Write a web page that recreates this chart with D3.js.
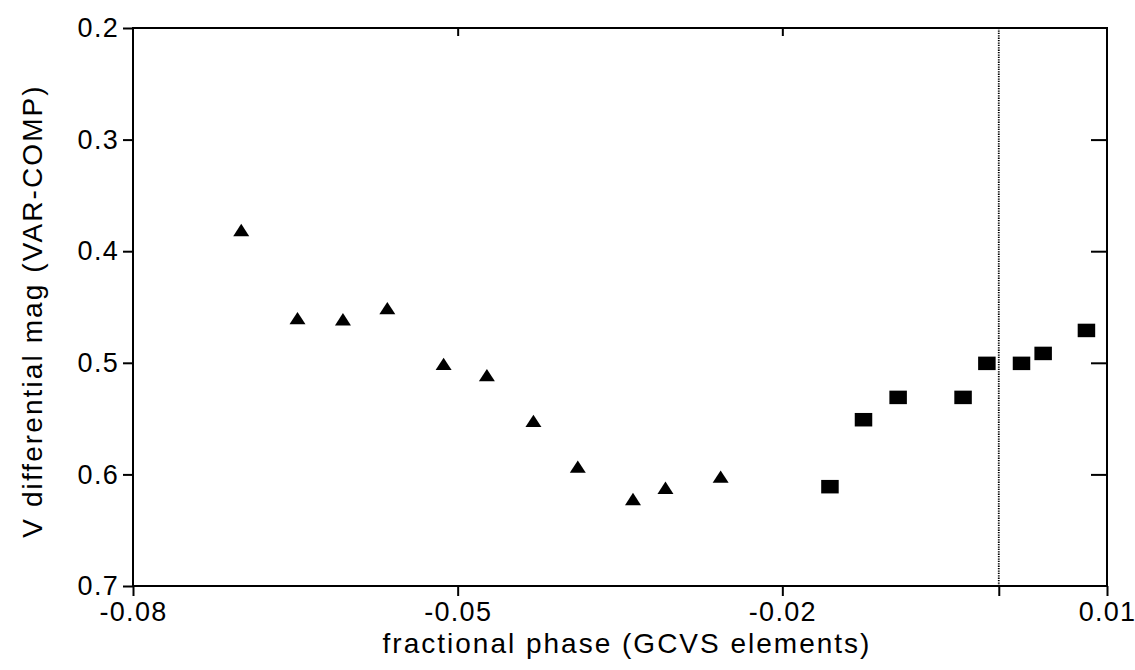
<!DOCTYPE html>
<html><head><meta charset="utf-8">
<script src="https://cdn.jsdelivr.net/npm/d3@7"></script>
<style>body{margin:0;background:#fff}svg{display:block}text{font-family:"Liberation Sans",Arial,Helvetica,sans-serif;fill:#000}</style>
</head><body>
<svg id="c" width="1135" height="670"></svg>
<script>
// triangles series
const triPhase = [-0.0700, -0.0648, -0.0606, -0.0565, -0.0513, -0.0473, -0.0430, -0.0389, -0.0338, -0.0308, -0.0257];
const triMag   = [0.381, 0.460, 0.461, 0.451, 0.501, 0.511, 0.552, 0.593, 0.622, 0.612, 0.602];
// squares series
const sqPhase = [-0.0156, -0.0125, -0.0093, -0.0033, -0.0011, 0.0021, 0.0041, 0.0081];
const sqMag   = [0.611, 0.551, 0.531, 0.531, 0.5005, 0.5005, 0.4916, 0.471];
// axes
const xTicksBottom = [-0.08, -0.05, -0.02, 0, 0.01];
const xTickLabels = [-0.08, -0.05, -0.02, 0.01];
const xTicksTop = [-0.05, -0.02];
const yTicks = [0.2, 0.3, 0.4, 0.5, 0.6, 0.7];
const yTicksRight = [0.3, 0.4, 0.5, 0.6];
const refLine = [0];
const xTitle = "fractional phase (GCVS elements)";
const yTitle = "V differential mag (VAR-COMP)";

const svg = d3.select("#c");
const L = 133, R = 1107, T = 28, B = 586;
const x = d3.scaleLinear().domain([-0.08, 0.01]).range([L, R]);
const y = d3.scaleLinear().domain([0.2, 0.7]).range([T, B]);
const fmt = d => d3.format(".2f")(d).replace("−","-");
const fmtY = d => d3.format(".1f")(d);

// reference dotted line
svg.selectAll("line.ref").data(refLine).join("line")
  .attr("x1", d => x(d)).attr("x2", d => x(d)).attr("y1", T).attr("y2", B)
  .attr("stroke", "#000").attr("stroke-width", 1.8).attr("stroke-dasharray", "1.3,1.1");

// frame
svg.append("rect").attr("x", L).attr("y", T).attr("width", R - L).attr("height", B - T)
  .attr("fill", "none").attr("stroke", "#000").attr("stroke-width", 2);

// left axis
const yAxisL = d3.axisLeft(y).tickValues(yTicks).tickFormat(fmtY).tickSize(10).tickPadding(4);
const gl = svg.append("g").attr("transform", `translate(${L},0)`).call(yAxisL);
gl.select(".domain").remove();
gl.selectAll("line").attr("stroke-width", 2);
gl.selectAll("text").style("font-size", "27px").style("letter-spacing", "1.3px");

// right axis ticks inward
const yAxisR = d3.axisLeft(y).tickValues(yTicksRight).tickFormat("").tickSize(16);
const gr = svg.append("g").attr("transform", `translate(${R},0)`).call(yAxisR);
gr.select(".domain").remove();
gr.selectAll("line").attr("stroke-width", 2);

// bottom axis
const xAxisB = d3.axisBottom(x).tickValues(xTicksBottom).tickFormat(d => xTickLabels.includes(d) ? fmt(d) : "").tickSize(10).tickPadding(6);
const gb = svg.append("g").attr("transform", `translate(0,${B})`).call(xAxisB);
gb.select(".domain").remove();
gb.selectAll("line").attr("stroke-width", 2);
gb.selectAll("text").style("font-size", "27px").style("letter-spacing", "1.3px");

// top axis ticks inward
const xAxisT = d3.axisBottom(x).tickValues(xTicksTop).tickFormat("").tickSize(8);
const gt = svg.append("g").attr("transform", `translate(0,${T})`).call(xAxisT);
gt.select(".domain").remove();
gt.selectAll("line").attr("stroke-width", 2);

// titles
svg.append("text").attr("x", (L + R) / 2 + 7).attr("y", 653).attr("text-anchor", "middle")
  .style("font-size", "28px").style("letter-spacing", "2px").text(xTitle);
svg.append("text").attr("transform", `translate(42,${(T + B) / 2 + 4}) rotate(-90)`)
  .attr("text-anchor", "middle").style("font-size", "28px").style("letter-spacing", "2.1px").text(yTitle);

// triangles
const tri = triPhase.map((p, i) => ({p, m: triMag[i]}));
const tw = 8, th = 6.2;
svg.selectAll("path.tri").data(tri).join("path").attr("class", "tri")
  .attr("d", d => { const cx = x(d.p), cy = y(d.m); return `M${cx},${cy - th}L${cx + tw},${cy + th}L${cx - tw},${cy + th}Z`; })
  .attr("fill", "#000");

// squares
const sq = sqPhase.map((p, i) => ({p, m: sqMag[i]}));
const sw = 17.5, sh = 13.5;
svg.selectAll("rect.sq").data(sq).join("rect").attr("class", "sq")
  .attr("x", d => x(d.p) - sw / 2).attr("y", d => y(d.m) - sh / 2)
  .attr("width", sw).attr("height", sh).attr("fill", "#000");
</script>
</body></html>
